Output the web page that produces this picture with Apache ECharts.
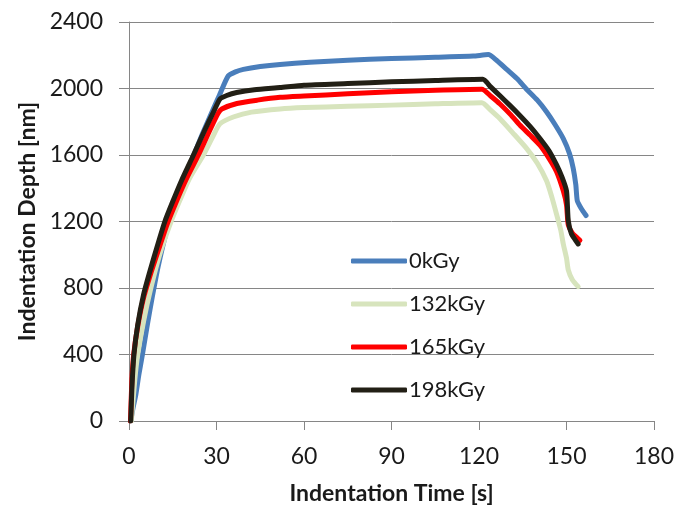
<!DOCTYPE html>
<html>
<head>
<meta charset="utf-8">
<script src="https://cdn.jsdelivr.net/npm/echarts@6/dist/echarts.min.js"></script>
<style>
html,body{margin:0;padding:0;background:#fff;}
#chart{width:690px;height:510px;}
</style>
</head>
<body>
<div id="chart"></div>
<script>
var seriesNames = ['0kGy', '132kGy', '165kGy', '198kGy'];
var seriesColors = ['#4A7EBB', '#D7E4BD', '#FF0000', '#221F15'];

var t0 = [0.6, 1.4, 2.3, 3.4, 4.6, 6.3, 8.0, 10, 13, 16, 18.5, 22, 25, 28.9, 31, 34, 36.5, 39.2, 45, 51.8, 62, 75, 90, 105, 118, 123.2, 126, 129.5, 133, 136.3, 140, 143.2, 146, 148.9, 151, 152.3, 153.2, 153.7, 155, 156.7];
var d0 = [0, 80, 154, 280, 400, 580, 748, 930, 1150, 1320, 1440, 1590, 1720, 1877, 1960, 2075, 2100, 2115, 2132, 2145, 2158, 2170, 2180, 2188, 2195, 2204, 2170, 2115, 2060, 1996, 1930, 1859, 1785, 1699, 1610, 1521, 1420, 1325, 1280, 1236];

var t132 = [0.8, 2, 3, 5, 7.5, 10.5, 14, 17.5, 20.8, 25.5, 29, 31.2, 36, 42, 51.8, 60, 75, 90, 105, 121, 124, 127.2, 131.5, 136.3, 140, 143.2, 145, 146.6, 148, 148.9, 150, 150.6, 152, 154];
var d132 = [0, 250, 400, 600, 800, 1000, 1180, 1330, 1461, 1600, 1720, 1788, 1830, 1858, 1877, 1885, 1893, 1900, 1908, 1915, 1870, 1818, 1735, 1640, 1550, 1443, 1345, 1243, 1150, 1065, 980, 909, 850, 808];

var t165 = [0.5, 1.0, 1.6, 3, 5, 7.5, 10.5, 13, 16, 19.5, 23.8, 28, 30.5, 31.8, 37, 44, 51.8, 60, 75, 90, 105, 121, 124, 127.2, 131, 134, 137.5, 140.9, 144, 146.6, 148.9, 150, 150.6, 152, 153.5, 154.6];
var d165 = [0, 250, 400, 570, 740, 890, 1050, 1180, 1310, 1450, 1600, 1760, 1850, 1877, 1910, 1930, 1947, 1955, 1968, 1980, 1990, 1996, 1955, 1907, 1840, 1780, 1720, 1659, 1580, 1500, 1384, 1300, 1180, 1130, 1105, 1087];

var t198 = [0.6, 1.0, 1.7, 3, 5, 7, 10, 12.3, 15, 18.1, 22.1, 26, 29, 31.2, 33.5, 36.9, 43, 51.8, 60, 75, 90, 105, 121.3, 124, 127.2, 130.5, 134, 137.5, 140.9, 144, 146.6, 148.5, 150, 150.6, 151.7, 153, 154];
var d198 = [0, 200, 400, 580, 760, 890, 1070, 1200, 1320, 1450, 1600, 1750, 1860, 1937, 1958, 1976, 1993, 2006, 2020, 2030, 2040, 2048, 2055, 2010, 1956, 1900, 1838, 1772, 1699, 1625, 1540, 1465, 1384, 1206, 1125, 1090, 1065];

var xTicks = [0, 30, 60, 90, 120, 150, 180];
var yTicks = [0, 400, 800, 1200, 1600, 2000, 2400];

function pairs(t, d) { return t.map(function (v, i) { return [v, d[i]]; }); }
var allT = [t0, t132, t165, t198];
var allD = [d0, d132, d165, d198];

var font = 'Lato, "Open Sans", sans-serif';
var grey = '#868686';

var chart = echarts.init(document.getElementById('chart'), null, { renderer: 'canvas' });
chart.setOption({
  animation: false,
  backgroundColor: '#ffffff',
  grid: { left: 129, right: 36, top: 22, bottom: 84, containLabel: false },
  legend: {
    orient: 'vertical',
    left: 346,
    top: 245,
    itemWidth: 56,
    itemHeight: 5,
    itemGap: 21,
    icon: 'roundRect',
    textStyle: { fontFamily: font, fontSize: 22, color: '#1a1a1a', lineHeight: 22, padding: [0, 0, 0, -3] },
    data: seriesNames
  },
  xAxis: {
    type: 'value',
    min: xTicks[0],
    max: xTicks[xTicks.length - 1],
    interval: 30,
    name: 'Indentation Time [s]',
    nameLocation: 'middle',
    nameGap: 61,
    nameTextStyle: { fontFamily: font, fontSize: 23, fontWeight: 'bold', color: '#1a1a1a' },
    axisLine: { show: true, lineStyle: { color: grey, width: 1 } },
    axisTick: { show: true, inside: false, length: 9, lineStyle: { color: grey } },
    axisLabel: { margin: 24, fontFamily: font, fontSize: 23, color: '#1a1a1a', formatter: function (v) { return String(v); } },
    splitLine: { show: false }
  },
  yAxis: {
    type: 'value',
    min: yTicks[0],
    max: yTicks[yTicks.length - 1],
    interval: 400,
    name: 'Indentation Depth [nm]',
    nameLocation: 'middle',
    nameGap: 76,
    nameRotate: 90,
    nameTextStyle: { fontFamily: font, fontSize: 23, fontWeight: 'bold', color: '#1a1a1a' },
    axisLine: { show: true, lineStyle: { color: grey, width: 1 } },
    axisTick: { show: true, inside: false, length: 10, lineStyle: { color: grey } },
    axisLabel: { margin: 26, fontFamily: font, fontSize: 23, color: '#1a1a1a', formatter: function (v) { return String(v); } },
    splitLine: { show: true, lineStyle: { color: grey, width: 1 } }
  },
  series: seriesNames.map(function (name, i) {
    return {
      name: name,
      type: 'line',
      data: pairs(allT[i], allD[i]),
      showSymbol: false,
      symbol: 'none',
      smooth: 0.2,
      color: seriesColors[i],
      lineStyle: { width: 5, color: seriesColors[i], cap: 'round', join: 'round' },
      z: 2 + i
    };
  })
});
</script>
</body>
</html>
